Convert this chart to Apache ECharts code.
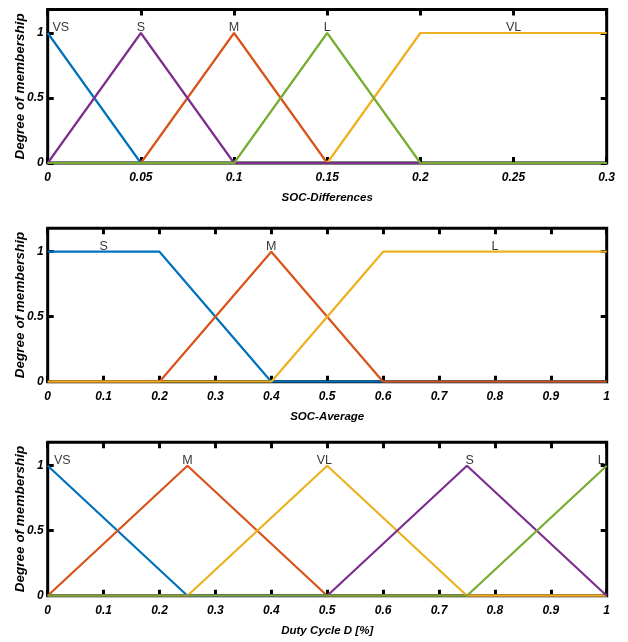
<!DOCTYPE html>
<html>
<head>
<meta charset="utf-8">
<script src="https://cdn.jsdelivr.net/npm/echarts@6/dist/echarts.min.js"></script>
<style>html,body{margin:0;padding:0;background:#fff;}#c{width:628px;height:642px;}</style>
</head>
<body>
<div id="c"></div>
<script>
// ---- Data ----
const colors = {blue:'#0072BD', orange:'#D95319', yellow:'#EDB120', purple:'#7E2F8E', green:'#77AC30'};

// Panel 1: SOC-Differences
const p1Name = 'SOC-Differences';
const p1XTicks = [0, 0.05, 0.1, 0.15, 0.2, 0.25, 0.3];
const p1VS = [[0,1],[0.05,0],[0.3,0]];
const p1M  = [[0,0],[0.05,0],[0.1,1],[0.15,0],[0.3,0]];
const p1VL = [[0,0],[0.15,0],[0.2,1],[0.3,1]];
const p1S  = [[0,0],[0.05,1],[0.1,0],[0.3,0]];
const p1L  = [[0,0],[0.1,0],[0.15,1],[0.2,0],[0.3,0]];
const p1Labels = [[0.007,1,'VS'],[0.05,1,'S'],[0.1,1,'M'],[0.15,1,'L'],[0.25,1,'VL']];

// Panel 2: SOC-Average
const p2Name = 'SOC-Average';
const p2XTicks = [0, 0.1, 0.2, 0.3, 0.4, 0.5, 0.6, 0.7, 0.8, 0.9, 1];
const p2S = [[0,1],[0.2,1],[0.4,0],[1,0]];
const p2M = [[0,0],[0.2,0],[0.4,1],[0.6,0],[1,0]];
const p2L = [[0,0],[0.4,0],[0.6,1],[1,1]];
const p2Labels = [[0.1,1,'S'],[0.4,1,'M'],[0.8,1,'L']];

// Panel 3: Duty Cycle
const p3Name = 'Duty Cycle D [%]';
const p3XTicks = [0, 0.1, 0.2, 0.3, 0.4, 0.5, 0.6, 0.7, 0.8, 0.9, 1];
const p3VS = [[0,1],[0.25,0],[1,0]];
const p3M  = [[0,0],[0.25,1],[0.5,0],[1,0]];
const p3VL = [[0,0],[0.25,0],[0.5,1],[0.75,0],[1,0]];
const p3S  = [[0,0],[0.5,0],[0.75,1],[1,0]];
const p3L  = [[0,0],[0.75,0],[1,1]];
const p3Labels = [[0.026,1,'VS'],[0.25,1,'M'],[0.495,1,'VL'],[0.755,1,'S'],[0.99,1,'L']];

const yTicks = [0, 0.5, 1];
const yName = 'Degree of membership';

// ---- Layout ----
const FONT = '"Liberation Sans", Arial, Helvetica, sans-serif';
const panels = [
  {top: 9.6, xMax: 0.3, xTicks: p1XTicks, name: p1Name,
   lines: [[p1VS,colors.blue],[p1M,colors.orange],[p1VL,colors.yellow],[p1S,colors.purple],[p1L,colors.green]],
   labels: p1Labels},
  {top: 228.3, xMax: 1, xTicks: p2XTicks, name: p2Name,
   lines: [[p2S,colors.blue],[p2M,colors.orange],[p2L,colors.yellow]],
   labels: p2Labels},
  {top: 442.3, xMax: 1, xTicks: p3XTicks, name: p3Name,
   lines: [[p3VS,colors.blue],[p3M,colors.orange],[p3VL,colors.yellow],[p3S,colors.purple],[p3L,colors.green]],
   labels: p3Labels}
];

const grid = [], xAxis = [], yAxis = [], series = [];
const tickStyle = {show:true, inside:true, length:6, lineStyle:{color:'#000', width:3}};
const labelFont = {color:'#000', fontFamily:FONT, fontSize:12, fontWeight:'bold', fontStyle:'italic'};
const noLine = {show:false, onZero:false};

panels.forEach((p, i) => {
  grid.push({left:47.7, right:21.3, top:p.top, height:153.4, show:true,
    borderColor:'#000', borderWidth:3, backgroundColor:'#fff', outerBoundsMode:'none', containLabel:false});
  xAxis.push({type:'value', gridIndex:i, position:'bottom', min:0, max:p.xMax,
    axisLine:noLine, splitLine:{show:false},
    axisTick:Object.assign({customValues:p.xTicks}, tickStyle),
    axisLabel:Object.assign({customValues:p.xTicks, margin:9}, labelFont),
    name:p.name, nameLocation:'middle', nameGap:29, nameMoveOverlap:false,
    nameTextStyle:{color:'#000', fontFamily:FONT, fontSize:11.5, fontWeight:'bold', fontStyle:'italic'}});
  xAxis.push({type:'value', gridIndex:i, position:'top', min:0, max:p.xMax,
    axisLine:noLine, splitLine:{show:false},
    axisTick:Object.assign({customValues:p.xTicks}, tickStyle),
    axisLabel:{show:false}});
  yAxis.push({type:'value', gridIndex:i, position:'left', min:0, max:1.18,
    axisLine:noLine, splitLine:{show:false},
    axisTick:Object.assign({customValues:yTicks}, tickStyle),
    axisLabel:Object.assign({customValues:yTicks, margin:4}, labelFont),
    name:yName, nameLocation:'middle', nameGap:20, nameMoveOverlap:false,
    nameTextStyle:{color:'#000', fontFamily:FONT, fontSize:13.5, fontWeight:'bold', fontStyle:'italic'}});
  yAxis.push({type:'value', gridIndex:i, position:'right', min:0, max:1.18,
    axisLine:noLine, splitLine:{show:false},
    axisTick:Object.assign({customValues:yTicks}, tickStyle),
    axisLabel:{show:false}});
  p.lines.forEach(([d, c]) => {
    series.push({type:'line', xAxisIndex:2*i, yAxisIndex:2*i, data:d, symbol:'none',
      lineStyle:{color:c, width:2.2}, itemStyle:{color:c}, silent:true, z:2});
  });
  series.push({type:'scatter', xAxisIndex:2*i, yAxisIndex:2*i, data:p.labels,
    symbolSize:1, itemStyle:{color:'rgba(0,0,0,0)'}, silent:true, z:5,
    label:{show:true, position:'top', distance:-2, formatter:(pr)=>pr.data[2],
      color:'#000', fontFamily:FONT, fontSize:12.5}});
});

const chart = echarts.init(document.getElementById('c'), null, {renderer:'canvas'});
chart.setOption({animation:false, backgroundColor:'#fff', grid, xAxis, yAxis, series});
</script>
</body>
</html>
